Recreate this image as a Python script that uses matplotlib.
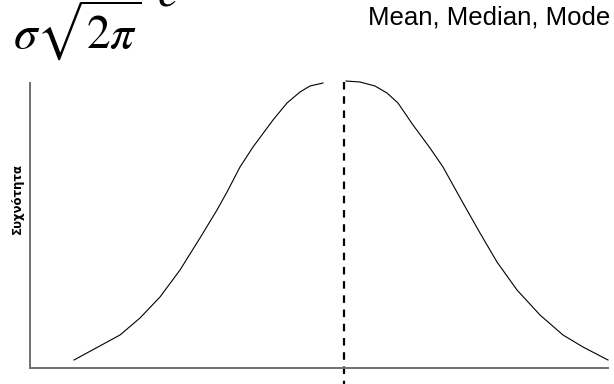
import numpy as np
import matplotlib.pyplot as plt

plt.rcParams['mathtext.fontset'] = 'stix'

# Καμπύλη συχνοτήτων (αριστερό και δεξί σκέλος, με κενό στην κορυφή)
left_x = [44, 90, 110, 130, 150, 170, 187, 197, 210, 223, 243, 257, 270, 280, 293]
left_y = [8, 33, 50, 71, 98, 130, 158, 176, 201, 221, 248, 265, 276, 282, 285]
right_x = [316, 330, 345, 357, 368, 383, 400, 413, 433, 450, 467, 487, 510, 533, 553, 578]
right_y = [287, 286, 282, 275, 265, 243, 220, 201, 165, 135, 106, 78, 53, 33, 21, 8]

# θέση μέσου / διάμεσου / επικρατούσας τιμής
center_x = 314
center_top = 286

title_text = 'Mean, Median, Mode'
ylabel_text = 'Συχνότητα'
denominator = r'$\sigma\sqrt{2\pi}$'
exp_base = r'$e$'

W, H = 614, 384
fig = plt.figure(figsize=(W / 100, H / 100), dpi=100)
ax = fig.add_axes([30 / W, 16 / H, 578 / W, 285 / H])

ax.plot(left_x, left_y, color='black', lw=0.8, clip_on=False)
ax.plot(right_x, right_y, color='black', lw=0.8, clip_on=False)

ax.plot([center_x, center_x], [center_top, -16], color='black', lw=1.6,
        dashes=(3.4, 3.0), clip_on=False)

ax.set_xlim(0, 578)
ax.set_ylim(0, 285)
ax.set_xticks([])
ax.set_yticks([])
for s in ['top', 'right']:
    ax.spines[s].set_visible(False)
for s in ['left', 'bottom']:
    ax.spines[s].set_color('#707070')
    ax.spines[s].set_linewidth(1.4)

fig.text(17 / W, 1 - 198 / H, ylabel_text, rotation=90, fontsize=8.5,
         fontweight='bold', ha='center', va='center')

fig.text(1 - 4 / W, 1 - 18 / H, title_text, fontsize=18.5,
         family='Liberation Sans', ha='right', va='center')

# παρονομαστής της κανονικής κατανομής και η βάση του εκθέτη
fig.text(13 / W, 1 - 49 / H, denominator, fontsize=34, ha='left', va='baseline')
fig.text(157 / W, 1 - 6 / H, exp_base, fontsize=34, ha='left', va='baseline')

fig.savefig('out.png', dpi=100)
